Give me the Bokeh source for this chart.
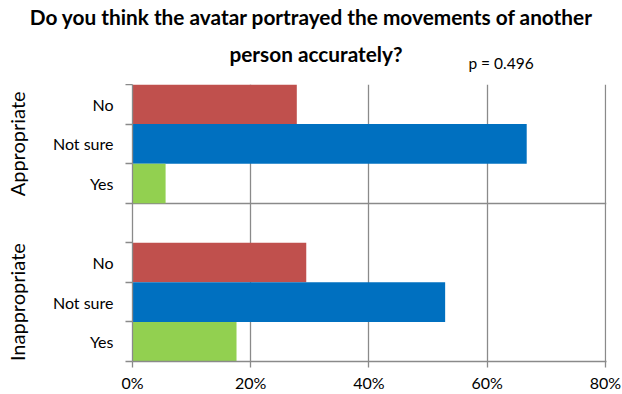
from bokeh.plotting import figure
from bokeh.models import ColumnDataSource, FixedTicker, Range1d, LinearAxis
from bokeh.layouts import column
from bokeh.core.properties import value
from bokeh.embed import file_html
from bokeh.resources import INLINE

# ---- data ----
groups = ["Appropriate", "Inappropriate"]
answers = ["No", "Not sure", "Yes"]
appropriate = [27.8, 66.7, 5.6]
inappropriate = [29.4, 52.9, 17.6]
answer_colors = ["#C0504D", "#0070C0", "#92D050"]
x_ticks = [0, 20, 40, 60, 80]
x_tick_labels = ["0%", "20%", "40%", "60%", "80%"]
title_lines = ["Do you think the avatar portrayed the movements of another",
               "person accurately?"]
p_note = "p = 0.496"

FONT = "Lato"
GRID = "#8a8a8a"
W = 622
HEAD_H = 84
CHART_H = 394 - HEAD_H
LEFT, RIGHT = 132, 16
HEAD_TOP = 35

# ---- header (title + note); data units = canvas pixels ----
head = figure(width=W, height=HEAD_H, output_backend="svg", toolbar_location=None,
              x_range=Range1d(LEFT, W - RIGHT), y_range=Range1d(HEAD_H, HEAD_TOP),
              x_axis_type=None, y_axis_type=None,
              min_border_left=LEFT, min_border_right=RIGHT,
              min_border_top=HEAD_TOP, min_border_bottom=0)
head.outline_line_color = None
head.xgrid.visible = False
head.ygrid.visible = False

t1 = LinearAxis(ticker=FixedTicker(ticks=[311], minor_ticks=[]),
                major_label_overrides={311: title_lines[0]},
                axis_line_color=None, major_tick_line_color=None,
                minor_tick_line_color=None, major_tick_in=0, major_tick_out=0,
                major_label_standoff=7, major_label_text_font=FONT,
                major_label_text_font_size="20.8px", major_label_text_font_style="bold",
                major_label_text_color="#000000")
head.add_layout(t1, "above")

head.text(x=[315.5], y=[53], text=[title_lines[1]], text_align="center",
          text_baseline="alphabetic", text_font=value(FONT), text_font_style="bold",
          text_font_size="20.8px", text_color="#000000")
head.text(x=[500.5], y=[62], text=[p_note], text_align="center",
          text_baseline="alphabetic", text_font=value(FONT),
          text_font_size="15.5px", text_color="#000000")

# ---- chart ----
values_by_group = [appropriate, inappropriate]
slot = len(answers) + 1
y_top = len(groups) * slot - 1

ys, vals, cols, label_map = [], [], [], {}
group_centers = []
for g, gv in enumerate(values_by_group):
    base = (len(groups) - 1 - g) * slot
    group_centers.append(base + len(answers) / 2)
    for i, a in enumerate(answers):
        yc = base + (len(answers) - 1 - i) + 0.5
        ys.append(yc)
        vals.append(gv[i])
        cols.append(answer_colors[i])
        label_map[yc] = a

src = ColumnDataSource(dict(y=ys, v=vals, c=cols))

x_end = 80.2
p = figure(width=W, height=CHART_H, output_backend="svg", toolbar_location=None,
           x_range=Range1d(0, x_end), y_range=Range1d(0, y_top),
           min_border_left=LEFT, min_border_right=RIGHT,
           min_border_top=0, min_border_bottom=32)
p.outline_line_color = None

p.hbar(y="y", left=0, right="v", height=1.0, fill_color="c", line_color=None, source=src)

xa = p.xaxis[0]
xa.ticker = FixedTicker(ticks=x_ticks, minor_ticks=[])
xa.major_label_overrides = {t: l for t, l in zip(x_ticks, x_tick_labels)}
xa.major_tick_in = 0
xa.major_tick_out = 6
xa.major_tick_line_color = GRID
xa.major_tick_line_width = 1.3
xa.axis_line_color = GRID
xa.axis_line_width = 1.3
xa.major_label_standoff = 5
xa.major_label_text_font = FONT
xa.major_label_text_font_size = "16px"
xa.major_label_text_color = "#000000"

ya = p.yaxis[0]
ya.ticker = FixedTicker(ticks=ys, minor_ticks=list(range(0, y_top + 1)))
ya.major_label_overrides = label_map
ya.major_tick_line_color = None
ya.major_tick_in = 0
ya.major_tick_out = 0
ya.minor_tick_in = 0
ya.minor_tick_out = 7
ya.minor_tick_line_color = GRID
ya.minor_tick_line_width = 1.3
ya.axis_line_color = GRID
ya.axis_line_width = 1.3
ya.major_label_standoff = 12
ya.major_label_text_font = FONT
ya.major_label_text_font_size = "16px"
ya.major_label_text_color = "#000000"

ga = LinearAxis(ticker=FixedTicker(ticks=group_centers, minor_ticks=[]),
                major_label_overrides={c: n for c, n in zip(group_centers, groups)},
                major_label_orientation="vertical",
                axis_line_color=None, major_tick_line_color=None,
                minor_tick_line_color=None, major_tick_in=0, major_tick_out=0,
                major_label_standoff=20, major_label_text_font=FONT,
                major_label_text_font_size="20px", major_label_text_color="#000000")
p.add_layout(ga, "left")

p.xgrid.ticker = FixedTicker(ticks=x_ticks[1:])
p.xgrid.grid_line_color = GRID
p.xgrid.grid_line_width = 1.3
p.ygrid.ticker = FixedTicker(ticks=[len(answers) + 1])
p.ygrid.grid_line_color = GRID
p.ygrid.grid_line_width = 1.3

layout = column(head, p, spacing=0)
open("out.html", "w").write(file_html(layout, INLINE))
